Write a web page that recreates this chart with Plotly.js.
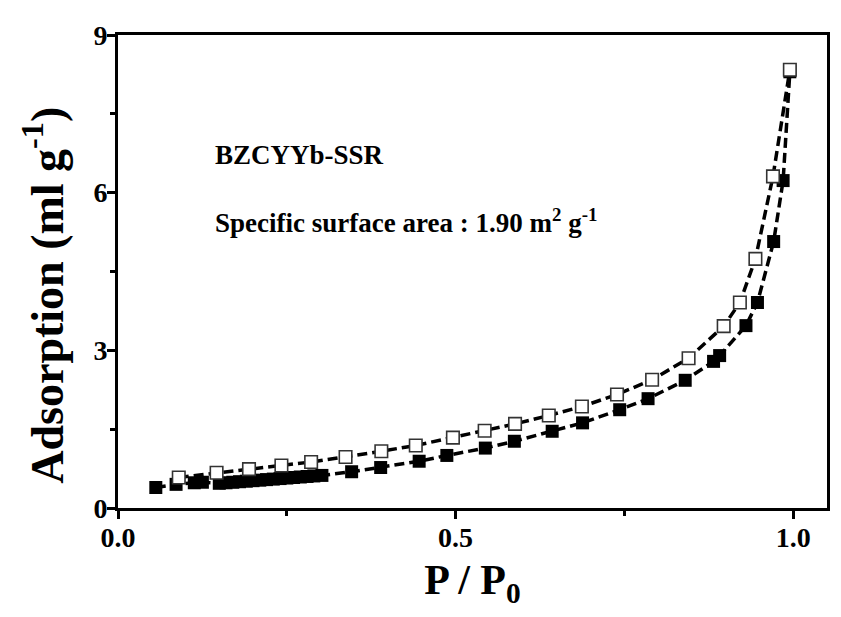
<!DOCTYPE html>
<html>
<head>
<meta charset="utf-8">
<script src="https://cdn.plot.ly/plotly-3.0.1.min.js"></script>
<style>html,body{margin:0;padding:0;background:#fff;}</style>
</head>
<body>
<div id="chart" style="width:841px;height:617px;"></div>
<script>
// Adsorption branch (filled squares)
var adsP = [0.056, 0.086, 0.113, 0.125, 0.150, 0.160, 0.170, 0.180, 0.190, 0.200, 0.210, 0.220, 0.230, 0.240, 0.250, 0.260, 0.270, 0.280, 0.290, 0.302,
            0.346, 0.389, 0.446, 0.487, 0.544, 0.587, 0.643, 0.688, 0.743, 0.785, 0.840, 0.882, 0.891, 0.930, 0.947, 0.971, 0.985, 0.995];
var adsV = [0.39, 0.45, 0.48, 0.49, 0.47, 0.48, 0.49, 0.50, 0.51, 0.52, 0.53, 0.54, 0.55, 0.56, 0.57, 0.58, 0.59, 0.60, 0.61, 0.62,
            0.69, 0.77, 0.89, 1.00, 1.14, 1.27, 1.46, 1.62, 1.87, 2.08, 2.43, 2.79, 2.90, 3.47, 3.91, 5.07, 6.23, 8.30];
// Desorption branch (open squares)
var desP = [0.090, 0.146, 0.194, 0.242, 0.286, 0.337, 0.390, 0.441, 0.496, 0.543, 0.588, 0.638, 0.687, 0.739, 0.791, 0.845, 0.897, 0.921, 0.944, 0.970, 0.995];
var desV = [0.58, 0.67, 0.74, 0.81, 0.875, 0.97, 1.08, 1.19, 1.34, 1.47, 1.60, 1.76, 1.93, 2.16, 2.44, 2.85, 3.46, 3.91, 4.74, 6.31, 8.34];

var xTickVals = [0.0, 0.5, 1.0];
var xTickText = ['<b>0.0</b>', '<b>0.5</b>', '<b>1.0</b>'];
var yTickVals = [0, 3, 6, 9];
var yTickText = ['<b>0</b>', '<b>3</b>', '<b>6</b>', '<b>9</b>'];

var FONT = 'Liberation Serif, Times New Roman, serif';

var traces = [
  {
    x: adsP, y: adsV, type: 'scatter', mode: 'lines+markers', name: 'Adsorption',
    line: {color: 'black', width: 3.5, dash: '10px,5px'},
    marker: {symbol: 'square', size: 13, color: 'black', line: {width: 0}},
    cliponaxis: false
  },
  {
    x: desP, y: desV, type: 'scatter', mode: 'lines+markers', name: 'Desorption',
    line: {color: 'black', width: 3.5, dash: '10px,5px'},
    marker: {symbol: 'square', size: 12.5, color: 'white', line: {color: '#333', width: 1.6}},
    cliponaxis: false
  }
];

var axisCommon = {
  showline: true, linecolor: 'black', linewidth: 3, mirror: true,
  showgrid: false, zeroline: false,
  ticks: 'outside', ticklen: 8, tickwidth: 3, tickcolor: 'black',
  ticklabelstandoff: -6,
  tickfont: {family: FONT, size: 28, color: 'black'}
};

var layout = {
  width: 841, height: 617,
  margin: {l: 118, r: 14, t: 35, b: 109},
  paper_bgcolor: 'white', plot_bgcolor: 'white',
  showlegend: false,
  font: {family: FONT, color: 'black'},
  xaxis: Object.assign({}, axisCommon, {
    range: [0, 1.05],
    tickmode: 'array', tickvals: xTickVals, ticktext: xTickText,
    minor: {tickvals: [0.25, 0.75], ticks: 'outside', ticklen: 5, tickwidth: 3, tickcolor: 'black'},
    title: {text: '<b>P / P<sub>0</sub></b>', font: {family: FONT, size: 42, color: 'black'}, standoff: 14}
  }),
  yaxis: Object.assign({}, axisCommon, {
    range: [0, 9],
    tickmode: 'array', tickvals: yTickVals, ticktext: yTickText,
    minor: {tickvals: [1.5, 4.5, 7.5], ticks: 'outside', ticklen: 5, tickwidth: 3, tickcolor: 'black'}
  }),
  annotations: [
    {xref: 'paper', yref: 'paper', x: -0.105, y: 0.45, xanchor: 'center', yanchor: 'middle', showarrow: false,
     textangle: -90, text: '<b>Adsorption (ml g<sup>-1</sup>)</b>', font: {family: FONT, size: 46, color: 'black'}},
    {xref: 'x', yref: 'y', x: 0.14, y: 6.72, xanchor: 'left', yanchor: 'middle', showarrow: false,
     text: '<b>BZCYYb-SSR</b>', font: {family: FONT, size: 27, color: 'black'}},
    {xref: 'x', yref: 'y', x: 0.14, y: 5.47, xanchor: 'left', yanchor: 'middle', showarrow: false,
     text: '<b>Specific surface area : 1.90 m<sup>2</sup> g<sup>-1</sup></b>', font: {family: FONT, size: 27, color: 'black'}}
  ]
};

Plotly.newPlot('chart', traces, layout, {displayModeBar: false, staticPlot: true});
</script>
</body>
</html>
